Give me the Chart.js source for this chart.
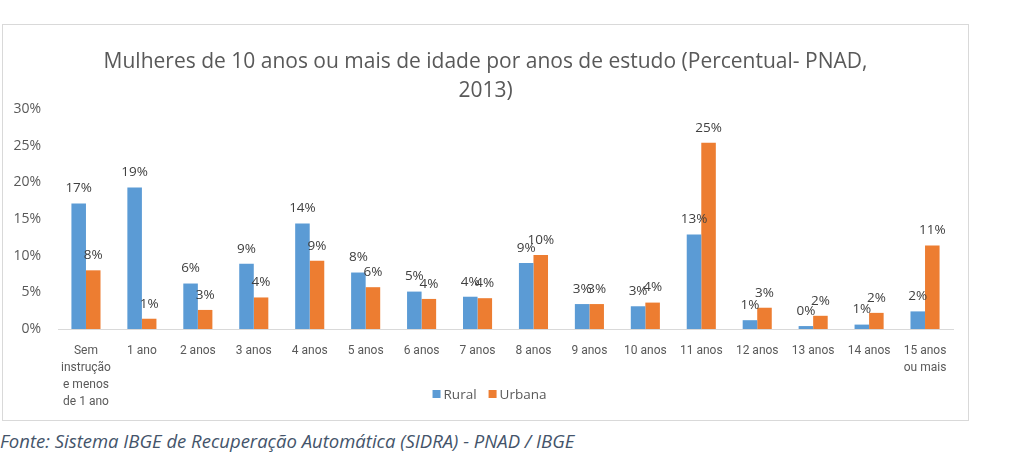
<!DOCTYPE html>
<html>
<head>
<meta charset="utf-8">
<script src="https://cdn.jsdelivr.net/npm/chart.js@4.4.1/dist/chart.umd.min.js"></script>
<style>
  html, body { margin: 0; padding: 0; background: #ffffff; width: 1024px; height: 458px; overflow: hidden; }
  #frame { position: absolute; left: 2px; top: 24px; width: 965px; height: 395px; border: 1px solid #d9d9d9; background: #fff; }
  #frame canvas { display: block; }
  #fonte { position: absolute; left: 0px; top: 428px; font-family: "Open Sans", sans-serif; font-style: italic; font-size: 18.5px; color: #44546A; white-space: nowrap; }
</style>
</head>
<body>
<div id="frame"><canvas id="c" width="965" height="395"></canvas></div>
<div id="fonte">Fonte: Sistema IBGE de Recuperação Automática (SIDRA) - PNAD / IBGE</div>
<script>
const categories = [
  ["Sem", "instrução", "e menos", "de 1 ano"],
  "1 ano", "2 anos", "3 anos", "4 anos", "5 anos", "6 anos", "7 anos",
  "8 anos", "9 anos", "10 anos", "11 anos", "12 anos", "13 anos", "14 anos",
  ["15 anos", "ou mais"]
];
const rural   = [17.1, 19.3, 6.2, 8.9, 14.4, 7.7, 5.1, 4.4, 9.0, 3.4, 3.1, 12.9, 1.2, 0.4, 0.6, 2.4];
const urbana  = [8.0, 1.4, 2.6, 4.3, 9.3, 5.7, 4.1, 4.2, 10.1, 3.4, 3.6, 25.4, 2.9, 1.8, 2.2, 11.4];
const seriesNames = ["Rural", "Urbana"];
const titleLines = ["Mulheres de 10 anos ou mais de idade por anos de estudo (Percentual- PNAD,", "2013)"];
const yTicks = [0, 5, 10, 15, 20, 25, 30];

const labelPlugin = {
  id: 'barLabels',
  afterDatasetsDraw(chart) {
    const ctx = chart.ctx;
    ctx.save();
    ctx.font = '13.5px "Open Sans", sans-serif';
    ctx.fillStyle = '#404040';
    ctx.textAlign = 'center';
    ctx.textBaseline = 'middle';
    chart.data.datasets.forEach((ds, i) => {
      const meta = chart.getDatasetMeta(i);
      meta.data.forEach((el, j) => {
        ctx.fillText(Math.round(ds.data[j]) + '%', el.x, el.y - 15);
      });
    });
    ctx.restore();
  }
};

const legendPlugin = {
  id: 'customLegend',
  afterDraw(chart) {
    const ctx = chart.ctx;
    ctx.save();
    ctx.font = '13.5px "Open Sans", sans-serif';
    ctx.textBaseline = 'middle';
    ctx.textAlign = 'left';
    const box = 8, gapBox = 3, gapItem = 12;
    const items = chart.data.datasets.map(ds => ({ text: ds.label, color: ds.backgroundColor, w: ctx.measureText(ds.label).width }));
    const total = items.reduce((s, it) => s + box + gapBox + it.w, 0) + gapItem * (items.length - 1);
    let x = chart.width / 2 + 4 - total / 2;
    const y = chart.chartArea.bottom + 66;
    items.forEach(it => {
      ctx.fillStyle = it.color;
      ctx.fillRect(x, y - box / 2 - 1, box, box);
      x += box + gapBox;
      ctx.fillStyle = '#595959';
      ctx.fillText(it.text, x, y);
      x += it.w + gapItem;
    });
    ctx.restore();
  }
};

new Chart(document.getElementById('c'), {
  type: 'bar',
  data: {
    labels: categories,
    datasets: [
      { label: seriesNames[0], data: rural, backgroundColor: '#5B9BD5', categoryPercentage: 0.52, barPercentage: 1.0 },
      { label: seriesNames[1], data: urbana, backgroundColor: '#ED7D31', categoryPercentage: 0.52, barPercentage: 1.0 }
    ]
  },
  options: {
    responsive: false,
    animation: false,
    layout: { padding: { left: 0, right: 0, top: 0, bottom: 11 } },
    plugins: {
      title: {
        display: true,
        text: titleLines,
        color: '#595959',
        font: { family: '"Open Sans", sans-serif', size: 21, weight: 'normal', lineHeight: 1.38 },
        padding: { top: 23, bottom: 3 }
      },
      legend: { display: false },
      tooltip: { enabled: false }
    },
    scales: {
      x: {
        grid: { display: false },
        border: { display: true, color: '#d9d9d9' },
        ticks: {
          color: '#595959',
          font: { family: 'Roboto, "Open Sans", sans-serif', size: 12, lineHeight: 1.44 },
          maxRotation: 0, autoSkip: false, padding: 5
        },
        afterFit(scale) { scale.height = 80; }
      },
      y: {
        min: 0, max: 30,
        grid: { display: false },
        border: { display: false },
        afterBuildTicks(scale) { scale.ticks = yTicks.map(v => ({ value: v })); },
        ticks: {
          color: '#595959',
          font: { family: '"Open Sans", sans-serif', size: 14 },
          padding: 9,
          callback: v => v + '%'
        },
        afterFit(scale) { scale.width = 55; }
      },
      yRight: {
        position: 'right',
        min: 0, max: 30,
        grid: { display: false },
        border: { display: false },
        ticks: { display: false },
        afterFit(scale) { scale.width = 15; }
      }
    }
  },
  plugins: [labelPlugin, legendPlugin]
});
</script>
</body>
</html>
